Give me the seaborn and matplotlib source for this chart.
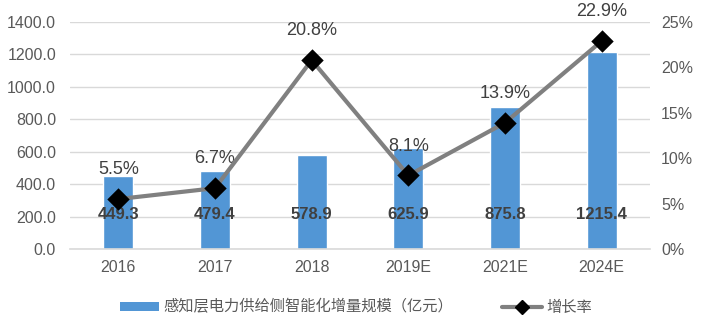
import matplotlib
matplotlib.use("Agg")
import matplotlib.pyplot as plt
import seaborn as sns
import numpy as np
from matplotlib.patches import Patch
from matplotlib.lines import Line2D
from matplotlib.ticker import FuncFormatter, MultipleLocator

years = ["2016", "2017", "2018", "2019E", "2021E", "2024E"]
scale = [449.3, 479.4, 578.9, 625.9, 875.8, 1215.4]
growth = [5.5, 6.7, 20.8, 8.1, 13.9, 22.9]
bar_label = "感知层电力供给侧智能化增量规模（亿元）"
line_label = "增长率"

sns.set_theme(style="white")
plt.rcParams['font.family'] = ['Liberation Sans', 'Noto Sans CJK SC', 'DejaVu Sans']

BLUE = "#5296D5"
GREY = "#808080"
TXT = "#595959"

fig = plt.figure(figsize=(7.09, 3.31), dpi=100)
ax = fig.add_axes([70/709, 1-249/331, (650-70)/709, (249-22)/331])

sns.barplot(x=years, y=scale, ax=ax, color=BLUE, width=0.31, saturation=1)
ax.set_ylim(0, 1400)
ax.yaxis.set_major_locator(MultipleLocator(200))
ax.yaxis.set_major_formatter(FuncFormatter(lambda v, p: f"{v:.1f}"))
ax.grid(axis='y', color="#D9D9D9", linewidth=1)
ax.set_axisbelow(True)
for s in ["top", "right", "left"]:
    ax.spines[s].set_visible(False)
ax.spines["bottom"].set_color("#D9D9D9")
ax.spines["bottom"].set_linewidth(1.2)
ax.tick_params(axis='both', length=0, labelsize=11.5, colors=TXT)
ax.tick_params(axis='y', pad=10)
ax.tick_params(axis='x', pad=8)

for i, v in enumerate(scale):
    ax.text(i, 212, f"{v:.1f}", ha='center', va='center', fontsize=12,
            fontweight='bold', color="#404040")

ax2 = ax.twinx()
sns.pointplot(x=years, y=growth, ax=ax2, color=GREY, markers='D', linestyles='-',
              linewidth=3, markersize=9.5, markerfacecolor='black', markeredgecolor='black',
              zorder=5)
ax2.set_ylim(0, 25)
ax2.yaxis.set_major_locator(MultipleLocator(5))
ax2.yaxis.set_major_formatter(FuncFormatter(lambda v, p: f"{v:.0f}%"))
for s in ["top", "right", "left", "bottom"]:
    ax2.spines[s].set_visible(False)
ax2.tick_params(axis='y', length=0, labelsize=11.5, colors=TXT, pad=8)
ax2.set_xlim(-0.5, len(years) - 0.5)
ax.set_xlim(-0.5, len(years) - 0.5)
ax2.set_ylabel("")
ax2.grid(False)

for i, g in enumerate(growth):
    ax2.annotate(f"{g:.1f}%", (i, g), xytext=(0, 21), textcoords='offset points',
                 ha='center', va='center', fontsize=13, color="#404040")

handles = [Patch(facecolor=BLUE, edgecolor='none'),
           Line2D([0], [0], color=GREY, linewidth=3, marker='D', markersize=7,
                  markerfacecolor='black', markeredgecolor='black')]
fig.legend(handles, [bar_label, line_label], loc='center', bbox_to_anchor=(356/709, 1-307/331),
           ncol=2, frameon=False, fontsize=11, labelcolor=TXT, handlelength=2.6,
           handleheight=0.55, handletextpad=0.3, columnspacing=3.2)

fig.savefig("out.png", dpi=100)
